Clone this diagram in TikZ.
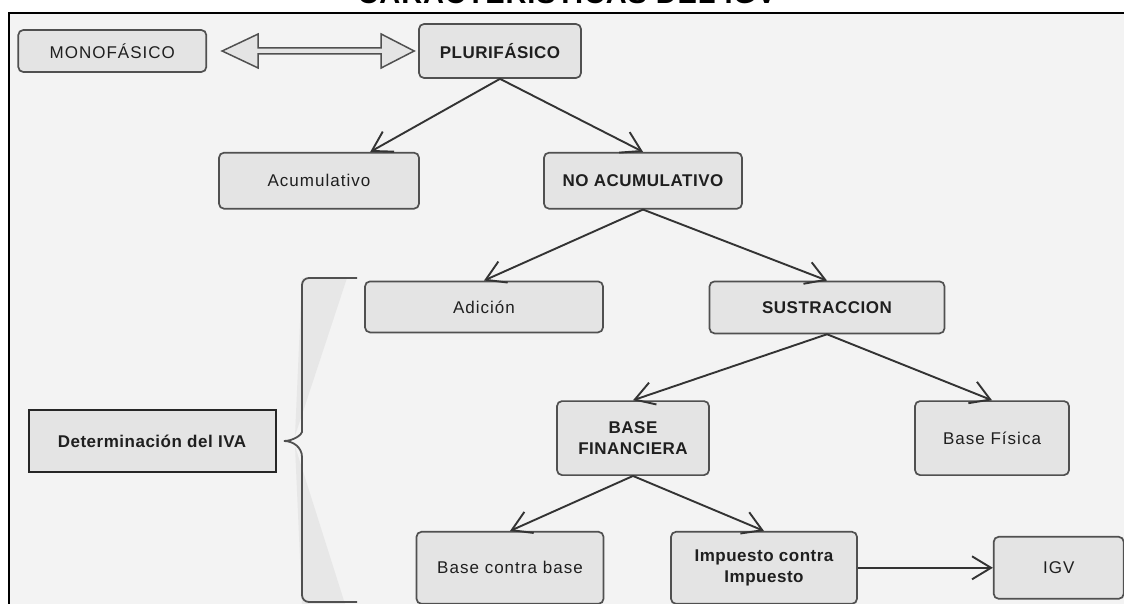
\documentclass[tikz,border=0pt]{standalone}
\usepackage{fontspec}
\setmainfont{Liberation Sans}[LetterSpace=6, BoldFeatures={LetterSpace=3}]
\usepackage{tikz}
\definecolor{bggray}{HTML}{F3F3F3}
\definecolor{boxgray}{HTML}{E4E4E4}
\definecolor{linegray}{HTML}{505050}
\definecolor{arrowgray}{HTML}{333333}
\usetikzlibrary{arrows.meta, positioning, calc}

\begin{document}
\begin{tikzpicture}[x=1pt, y=1pt,
  bnode/.style={rectangle, rounded corners=5pt, draw=linegray, line width=1.7pt, fill=boxgray,
    align=center, inner sep=2pt, text=black!88, font=\fontsize{17}{21}\selectfont},
  bnodeb/.style={bnode, font=\fontsize{17}{21}\selectfont\bfseries},
  detnode/.style={bnodeb, rounded corners=0pt, draw=black!85, line width=2pt},
  hollowarr/.style={draw=linegray, fill=boxgray, line width=1.5pt, line join=miter},
  ->/.style={-{Straight Barb[length=19pt, width=23pt]}, line width=1.9pt, draw=arrowgray},
  node distance=70pt]
  \useasboundingbox (0,0) rectangle (1124,-604);
  \clip (0,0) rectangle (1124,-604);
  \fill[white] (0,0) rectangle (1124,-604);
  \node[anchor=base, font=\fontsize{29}{30}\selectfont\bfseries] (title) at (567,-4) {CARACTERÍSTICAS DEL IGV};
  \draw[line width=2pt, fill=bggray] (9,-13) rectangle (1150,-630);
  \node[bnodeb, minimum width=162pt, minimum height=54pt] (plur) at (500,-51) {PLURIFÁSICO};
  \node[bnode, minimum width=188pt, minimum height=42pt] (mono) [left = 211pt of plur] {MONOFÁSICO};
  \node[bnode, minimum width=200pt, minimum height=56pt] (acum) [below = 73pt of plur, xshift=-181pt] {Acumulativo};
  \node[bnodeb, minimum width=198pt, minimum height=56pt] (noacum) [below = 73pt of plur, xshift=143pt] {NO ACUMULATIVO};
  \node[bnode, minimum width=238pt, minimum height=51pt] (adic) [below = 71pt of noacum, xshift=-159pt] {Adición};
  \node[bnodeb, minimum width=235pt, minimum height=52pt] (sus) [below = 71pt of noacum, xshift=184pt] {SUSTRACCION};
  \node[bnodeb, minimum width=152pt, minimum height=74pt] (basefin) [below = 66pt of sus, xshift=-194pt] {BASE\\FINANCIERA};
  \node[bnode, minimum width=154pt, minimum height=74pt] (basefis) [below = 66pt of sus, xshift=165pt] {Base Física};
  \node[bnode, minimum width=187pt, minimum height=72pt] (bcb) [below = 55pt of basefin, xshift=-123pt] {Base contra base};
  \node[bnodeb, minimum width=186pt, minimum height=72pt] (imp) [below = 55pt of basefin, xshift=131pt] {Impuesto contra\\Impuesto};
  \node[bnode, minimum width=130pt, minimum height=62pt] (igv) [right = 135pt of imp] {IGV};
  \node[detnode, minimum width=247pt, minimum height=62pt] (det) at (152,-441) {Determinación del IVA};
  \draw[hollowarr] ($(mono.east)+(15pt,0)$) coordinate (ml) -- ++(36pt,17pt) -- ++(0,-14pt)
    -- ($(plur.west)+(-37pt,3pt)$) -- ++(0,14pt) -- ($(plur.west)+(-4pt,0)$) -- ++(-33pt,-17pt)
    -- ++(0,14pt) -- ($(ml)+(36pt,-3pt)$) -- ++(0,-14pt) -- cycle;
  \draw[->] (plur.south) to (acum);
  \draw[->] (plur.south) to (noacum.north);
  \draw[->] (noacum.south) to (adic.north);
  \draw[->] (noacum.south) to (sus.north);
  \draw[->] (sus.south) to (basefin.north);
  \draw[->] (sus.south) to (basefis.north);
  \draw[->] (basefin.south) to (bcb.north);
  \draw[->] (basefin.south) to (imp.north);
  \draw[->] (imp) to (igv);
  \fill[boxgray!80!bggray] (302,-278) -- (347,-278) -- (295,-436) -- cycle;
  \fill[boxgray!80!bggray] (295,-446) -- (345,-604) -- (302,-604) -- cycle;
  \draw[line width=1.8pt, draw=linegray, rounded corners=7pt] (357,-278) -- (302,-278) -- (302,-425)
    [rounded corners=0pt] to[out=-90, in=0] (284,-441) to[out=0, in=90] (302,-457)
    [rounded corners=7pt] -- (302,-602) -- (357,-602);
\end{tikzpicture}
\end{document}
